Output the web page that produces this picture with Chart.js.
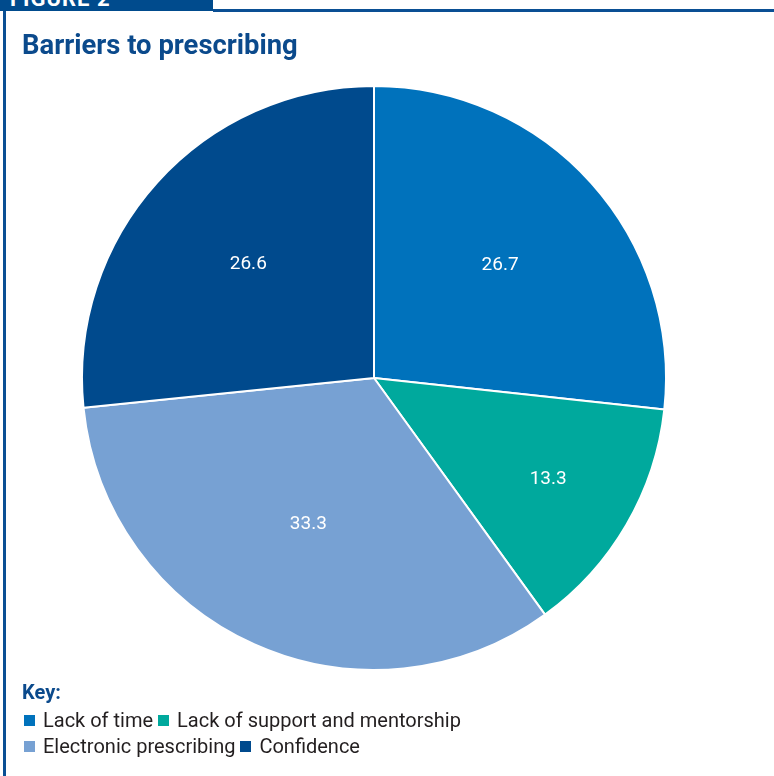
<!DOCTYPE html>
<html>
<head>
<meta charset="utf-8">
<script src="https://cdn.jsdelivr.net/npm/chart.js@4.4.1/dist/chart.umd.min.js"></script>
<style>
  html, body { margin: 0; padding: 0; background: #fff; }
  #wrap { position: relative; width: 774px; height: 776px; overflow: hidden; font-family: Roboto, "Noto Sans", sans-serif; }
  #tab { position: absolute; left: 0; top: 0; width: 213px; height: 11px; background: #004b8d; overflow: hidden; }
  #tab span { position: absolute; left: 10px; top: -14px; color: #fff; font-weight: 700; font-size: 22px; letter-spacing: 1px; }
  #topline { position: absolute; left: 213px; top: 9px; right: 0; height: 3px; background: #0a4f94; }
  #leftline { position: absolute; left: 3px; top: 11px; bottom: 0; width: 3px; background: #0a4f94; }
  #title { position: absolute; left: 22px; top: 28px; color: #0b4a8c; font-weight: 700; font-size: 28px; white-space: nowrap; transform-origin: 0 0; }
  #chart { position: absolute; left: 0; top: 0; }
  #key { position: absolute; left: 22px; top: 680px; color: #231f20; font-size: 20px; }
  #key .hd { color: #0b4a8c; font-weight: 700; font-size: 20px; margin-bottom: 3px; }
  #key .row { height: 26px; line-height: 26px; white-space: nowrap; transform-origin: 0 50%; }
  #key .sw { display: inline-block; width: 11px; height: 11px; margin: 0 8px 0 5px; vertical-align: 1px; }
  #key .sw:first-child { margin-left: 2px; }
</style>
</head>
<body>
<div id="wrap">
  <canvas id="chart" width="774" height="776"></canvas>
  <div id="tab"><span>FIGURE 2</span></div>
  <div id="topline"></div>
  <div id="leftline"></div>
  <div id="title">Barriers to prescribing</div>
  <div id="key"><div class="hd">Key:</div></div>
</div>
<script>
// datos del gráfico
const categories = ['Lack of time', 'Lack of support and mentorship', 'Electronic prescribing', 'Confidence'];
const values = [26.7, 13.3, 33.3, 26.6];
const colors = ['#0072bc', '#00a99d', '#77a1d3', '#004a8d'];
const legendRows = [[0, 1], [2, 3]];

// ajustar el ancho del título
let title = document.getElementById('title');
title.style.transform = 'scaleX(' + (276 / title.offsetWidth) + ')';

// leyenda
let key = document.getElementById('key');
legendRows.forEach(row => {
    let div = document.createElement('div');
    div.className = 'row';
    row.forEach(i => {
        div.innerHTML += `<span class="sw" style="background:${colors[i]}"></span>${categories[i]}`;
    });
    key.appendChild(div);
});

// etiquetas dentro de las porciones
const sliceLabels = {
    id: 'sliceLabels',
    afterDatasetsDraw(chart, args, opts) {
        let ctx = chart.ctx;
        let meta = chart.getDatasetMeta(0);
        ctx.save();
        ctx.fillStyle = '#fff';
        ctx.font = '19px Roboto, "Noto Sans", sans-serif';
        ctx.textAlign = 'center';
        ctx.textBaseline = 'middle';
        meta.data.forEach((arc, i) => {
            let p = arc.getProps(['x', 'y', 'startAngle', 'endAngle', 'outerRadius'], true);
            let mid = (p.startAngle + p.endAngle) / 2;
            let r = p.outerRadius * opts.radial[i];
            ctx.fillText(chart.data.datasets[0].data[i].toFixed(1), p.x + Math.cos(mid) * r, p.y + Math.sin(mid) * r);
        });
        ctx.restore();
    }
};

new Chart(document.getElementById('chart'), {
    type: 'pie',
    data: {
        labels: categories,
        datasets: [{
            data: values,
            backgroundColor: colors,
            borderColor: '#ffffff',
            borderWidth: 2
        }]
    },
    options: {
        responsive: false,
        animation: false,
        layout: { padding: { left: 81, right: 107, top: 85, bottom: 105 } },
        plugins: {
            legend: { display: false },
            tooltip: { enabled: false },
            sliceLabels: { radial: [0.58, 0.69, 0.55, 0.58] }
        }
    },
    plugins: [sliceLabels]
});
</script>
</body>
</html>
